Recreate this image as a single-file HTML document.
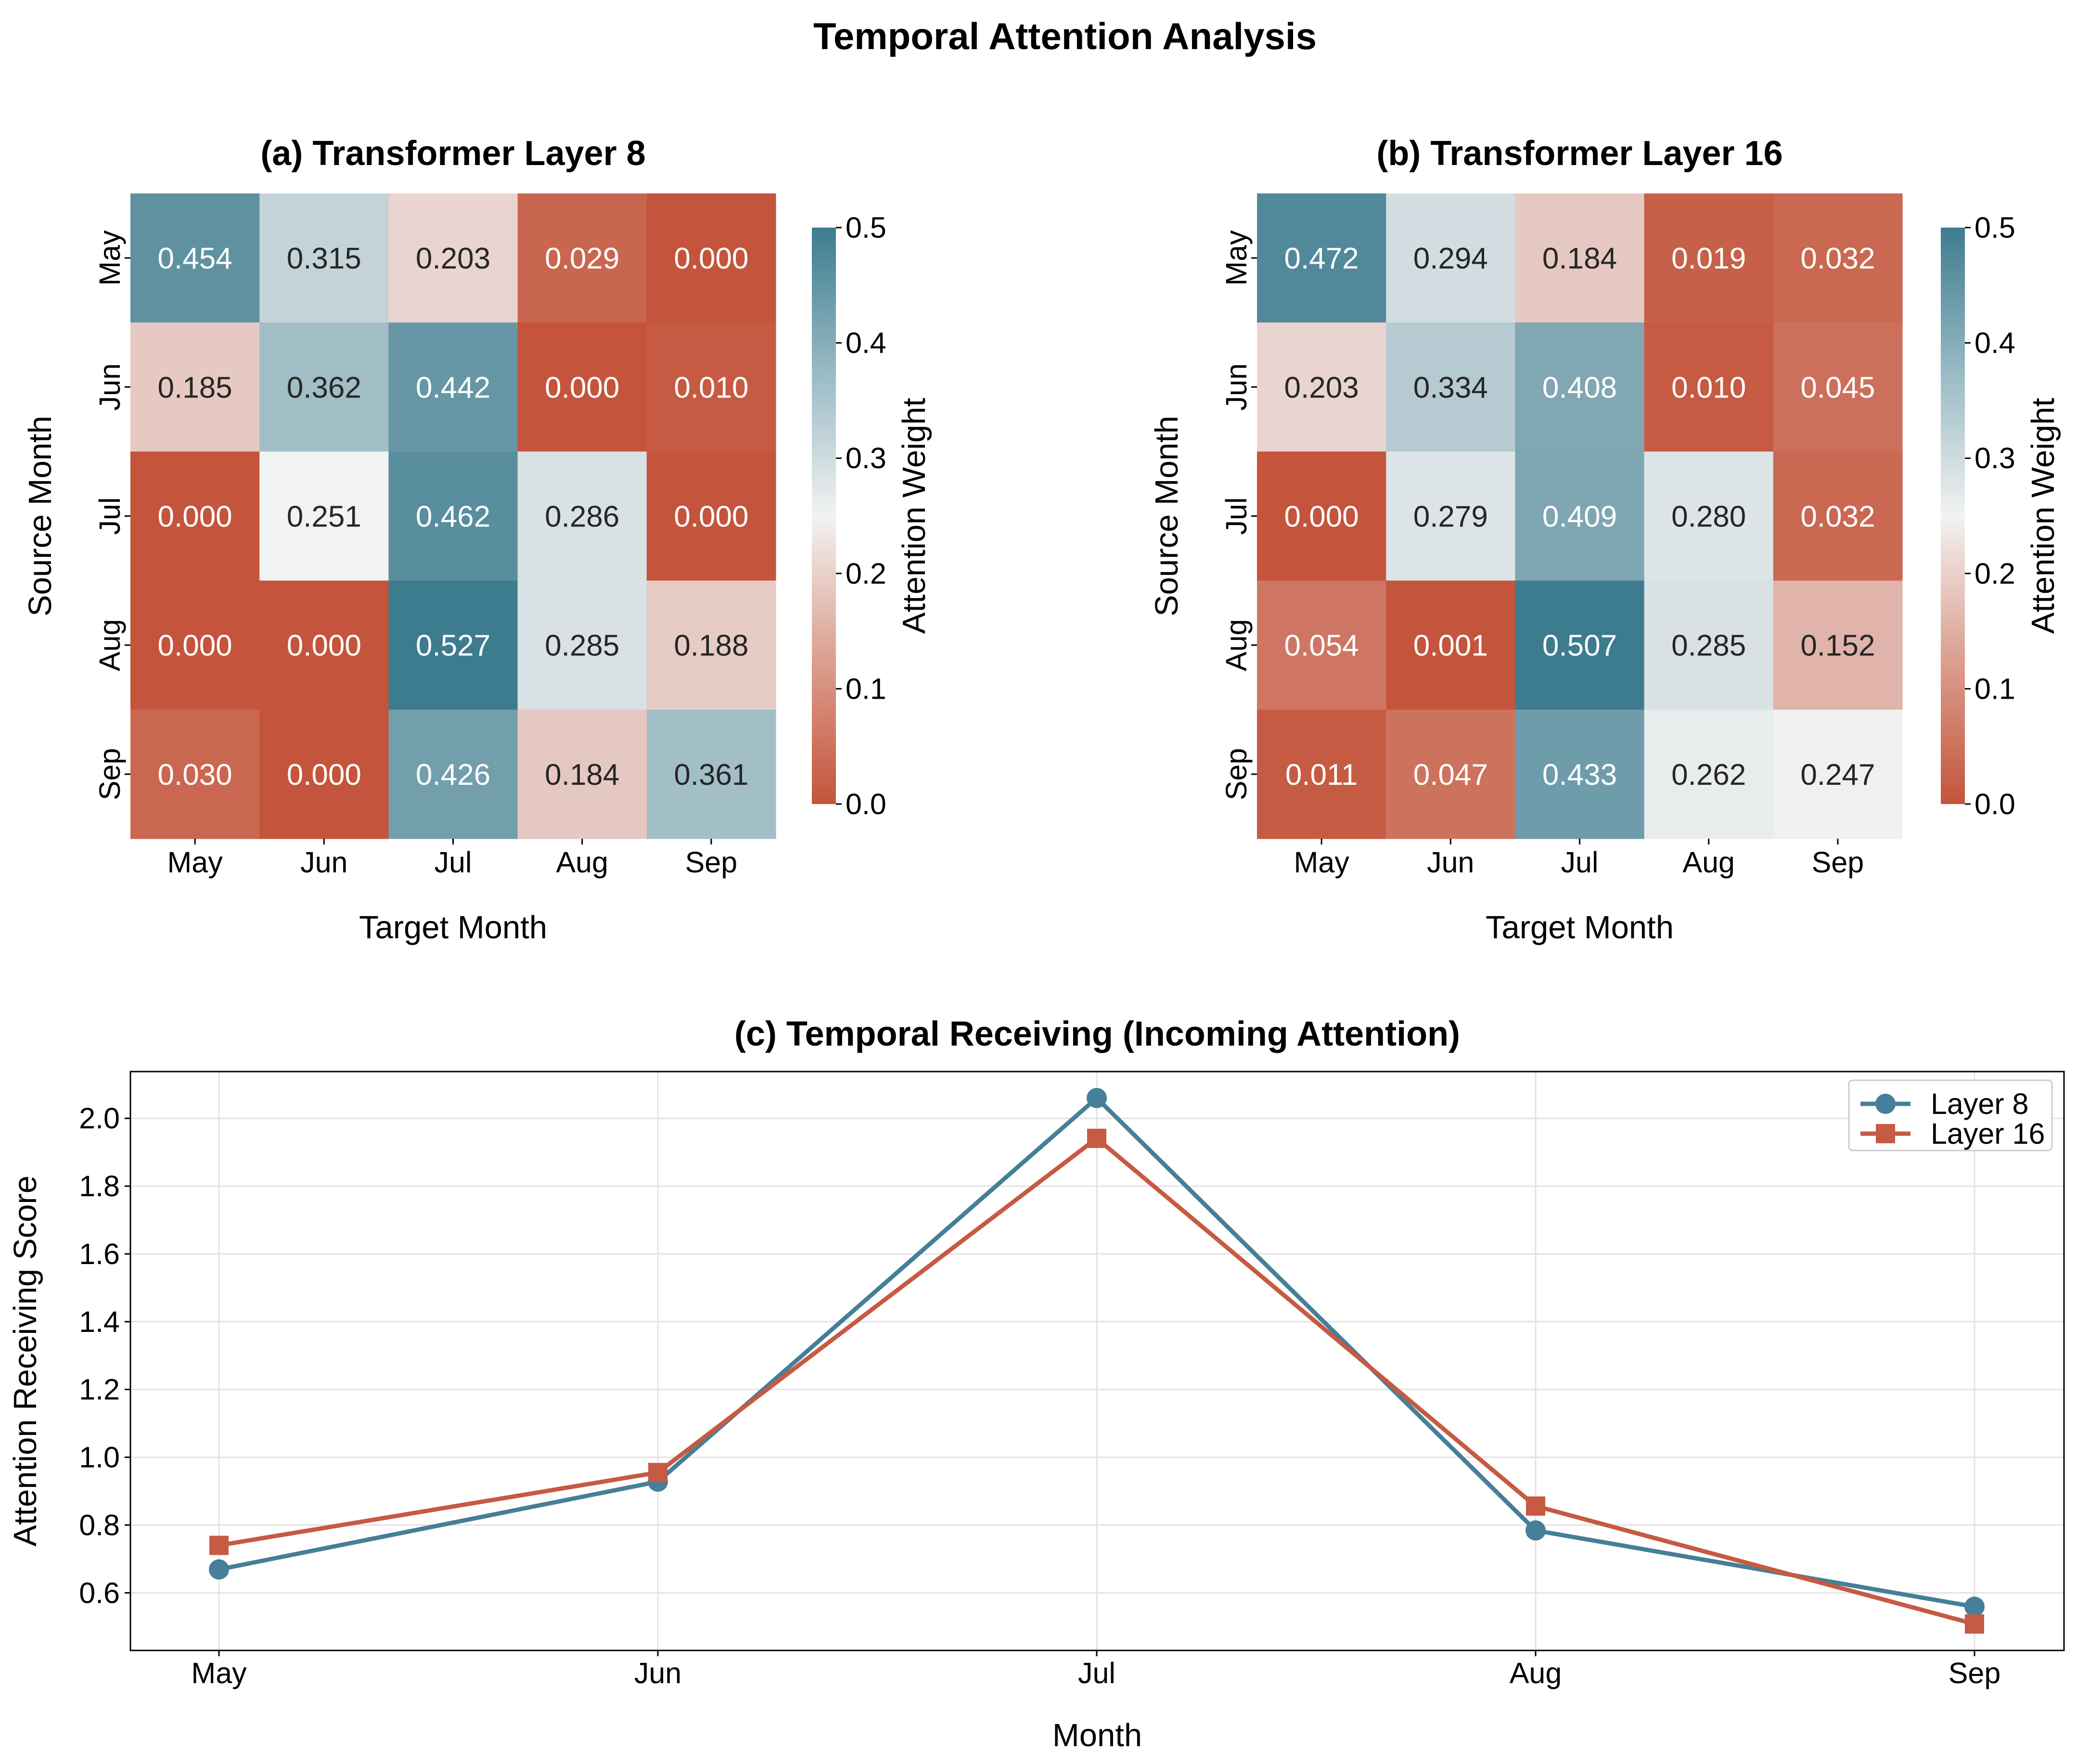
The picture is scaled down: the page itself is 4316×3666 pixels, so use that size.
<!DOCTYPE html>
<html><head><meta charset="utf-8">
<style>
html,body{margin:0;padding:0;background:#fff;}
svg{display:block;font-family:"Liberation Sans",Arial,sans-serif;}
</style></head>
<body>
<svg id="fig" width="4316" height="3666" viewBox="0 0 4316 3666" xmlns="http://www.w3.org/2000/svg">
<defs>
<linearGradient id="cbgrad" x1="0" y1="1" x2="0" y2="0">
<stop offset="0" stop-color="#c4543b"/>
<stop offset="0.25" stop-color="#dc9f8f"/>
<stop offset="0.5" stop-color="#f2f2f2"/>
<stop offset="0.75" stop-color="#98bac4"/>
<stop offset="1" stop-color="#3d7c8f"/>
</linearGradient>
</defs>
<text x="2213" y="102" font-size="78" font-weight="bold" text-anchor="middle">Temporal Attention Analysis</text>
<g id="root"></g>
</svg>
<script>
const months = ["May","Jun","Jul","Aug","Sep"];
const layer8 = [
 [0.454,0.315,0.203,0.029,0.000],
 [0.185,0.362,0.442,0.000,0.010],
 [0.000,0.251,0.462,0.286,0.000],
 [0.000,0.000,0.527,0.285,0.188],
 [0.030,0.000,0.426,0.184,0.361]];
const layer16 = [
 [0.472,0.294,0.184,0.019,0.032],
 [0.203,0.334,0.408,0.010,0.045],
 [0.000,0.279,0.409,0.280,0.032],
 [0.054,0.001,0.507,0.285,0.152],
 [0.011,0.047,0.433,0.262,0.247]];
const cbTicks = [0.0,0.1,0.2,0.3,0.4,0.5];
const yTicksLine = [0.6,0.8,1.0,1.2,1.4,1.6,1.8,2.0];

const NS="http://www.w3.org/2000/svg";
const root=document.getElementById('root');
function mk(tag,attrs,parent,text){const e=document.createElementNS(NS,tag);for(const k in attrs)e.setAttribute(k,attrs[k]);if(text!==undefined)e.textContent=text;(parent||root).appendChild(e);return e;}

const LOW=[196,84,59],MID=[242,242,242],HIGH=[61,124,143];
function cmap(v){let t=Math.max(0,Math.min(1,v/0.5));let a,b,u;if(t<0.5){a=LOW;b=MID;u=t/0.5;}else{a=MID;b=HIGH;u=(t-0.5)/0.5;}
 return a.map((x,i)=>Math.round(x+(b[i]-x)*u));}

const FT=61, FL=67, FV=62;
function heatmap(data,x0,cbx,title,key){
 const y0=402,size=1341,cell=size/5;
 const g=mk('g',{});
 
 
 const t=mk('text',{x:x0+size/2,y:343,'font-size':72,'font-weight':'bold','text-anchor':'middle'},g,title);
 
 
 data.forEach((row,r)=>row.forEach((v,c)=>{
  const col=cmap(v);
  const rc=mk('rect',{x:x0+c*cell,y:y0+r*cell,width:cell+0.6,height:cell+0.6,fill:`rgb(${col})`},g);
  
  
  const lum=0.299*col[0]+0.587*col[1]+0.114*col[2];
  const tx=mk('text',{x:x0+(c+0.5)*cell,y:y0+(r+0.5)*cell+22,'font-size':FV,'text-anchor':'middle',fill:lum<170?'#ffffff':'#262626'},g,v.toFixed(3));
  
  
 }));
 months.forEach((m,i)=>{
  const cx=x0+(i+0.5)*cell;
  mk('line',{x1:cx,y1:y0+size,x2:cx,y2:y0+size+12,stroke:'#000','stroke-width':3},g);
  const xl=mk('text',{x:cx,y:1813,'font-size':FT,'text-anchor':'middle'},g,m);
  
  
  const cy=y0+(i+0.5)*cell;
  mk('line',{x1:x0-12,y1:cy,x2:x0,y2:cy,stroke:'#000','stroke-width':3},g);
  const yl=mk('text',{x:0,y:0,'font-size':FT,'text-anchor':'middle',transform:`translate(${x0-22},${cy}) rotate(-90)`},g,m);
  
  
 });
 const xlab=mk('text',{x:x0+size/2,y:1950,'font-size':FL,'text-anchor':'middle'},g,'Target Month');
 
 
 const ylab=mk('text',{x:0,y:0,'font-size':FL,'text-anchor':'middle',transform:`translate(${x0-165},${y0+size/2}) rotate(-90)`},g,'Source Month');
 
 
 const cbTop=473,cbBot=1671,cbW=50;
 const cb=mk('rect',{x:cbx,y:cbTop,width:cbW,height:cbBot-cbTop,fill:'url(#cbgrad)'},g);
 
 
 cbTicks.forEach(v=>{
  const yy=cbBot-(v/0.5)*(cbBot-cbTop);
  mk('line',{x1:cbx+cbW,y1:yy,x2:cbx+cbW+12,y2:yy,stroke:'#000','stroke-width':3},g);
  const tl=mk('text',{x:cbx+cbW+20,y:yy+21,'font-size':FT},g,v.toFixed(1));
  
  
 });
 const cbl=mk('text',{x:0,y:0,'font-size':FL,'text-anchor':'middle',transform:`translate(${cbx+235},${(cbTop+cbBot)/2}) rotate(-90)`},g,'Attention Weight');
 
 
}
heatmap(layer8,271,1687,'(a) Transformer Layer 8','layer8');
heatmap(layer16,2612,4033,'(b) Transformer Layer 16','layer16');

const recv8 = months.map((m,c)=>layer8.reduce((s,row)=>s+row[c],0));
const recv16 = months.map((m,c)=>layer16.reduce((s,row)=>s+row[c],0));
const L=271,R=4289,T=2227,B=3430;
const xMay=455,xStep=912;
const yMin=0.43,yMax=2.138;
const xs=i=>xMay+i*xStep;
const ys=v=>B-(v-yMin)/(yMax-yMin)*(B-T);
const lg=mk('g',{});


const ct=mk('text',{x:(L+R)/2,y:2173,'font-size':72,'font-weight':'bold','text-anchor':'middle'},lg,'(c) Temporal Receiving (Incoming Attention)');


yTicksLine.forEach(v=>{
 const y=ys(v);
 mk('line',{x1:L,y1:y,x2:R,y2:y,stroke:'#e3e3e3','stroke-width':3},lg);
 mk('line',{x1:L-12,y1:y,x2:L,y2:y,stroke:'#000','stroke-width':3},lg);
 const t=mk('text',{x:L-22,y:y+21,'font-size':FT,'text-anchor':'end'},lg,v.toFixed(1));
 
 
});
months.forEach((m,i)=>{
 const x=xs(i);
 mk('line',{x1:x,y1:T,x2:x,y2:B,stroke:'#e3e3e3','stroke-width':3},lg);
 mk('line',{x1:x,y1:B,x2:x,y2:B+12,stroke:'#000','stroke-width':3},lg);
 const t=mk('text',{x:x,y:3498,'font-size':FT,'text-anchor':'middle'},lg,m);
 
 
});
const frame=mk('rect',{x:L,y:T,width:R-L,height:B-T,fill:'none',stroke:'#000','stroke-width':3},lg);


const xl=mk('text',{x:(L+R)/2,y:3629,'font-size':FL,'text-anchor':'middle'},lg,'Month');


const yl=mk('text',{x:0,y:0,'font-size':FL,'text-anchor':'middle',transform:`translate(75,${(T+B)/2}) rotate(-90)`},lg,'Attention Receiving Score');


const C8='#457f99',C16='#c65a43';
function series(vals,color,marker,key){
 const pts=vals.map((v,i)=>xs(i)+','+ys(v)).join(' ');
 const pl=mk('polyline',{points:pts,fill:'none',stroke:color,'stroke-width':9,'stroke-linejoin':'round'},lg);
 
 
 vals.forEach((v,i)=>{
  let m;
  if(marker==='circle') m=mk('circle',{cx:xs(i),cy:ys(v),r:21,fill:color},lg);
  else m=mk('rect',{x:xs(i)-20,y:ys(v)-20,width:40,height:40,fill:color},lg);
  
  
 });
}
series(recv8,C8,'circle','layer8');
series(recv16,C16,'square','layer16');
const leg=mk('g',{});


mk('rect',{x:3842,y:2245,width:422,height:146,rx:8,fill:'#fff',stroke:'#cccccc','stroke-width':3},leg);
const e1=mk('g',{},leg);


mk('line',{x1:3866,y1:2294,x2:3970,y2:2294,stroke:C8,'stroke-width':9},e1);
mk('circle',{cx:3918,cy:2294,r:21,fill:C8},e1);
mk('text',{x:4012,y:2315,'font-size':FT},e1,'Layer 8');
const e2=mk('g',{},leg);


mk('line',{x1:3866,y1:2356,x2:3970,y2:2356,stroke:C16,'stroke-width':9},e2);
mk('rect',{x:3898,y:2336,width:40,height:40,fill:C16},e2);
mk('text',{x:4012,y:2377,'font-size':FT},e2,'Layer 16');
</script>
</body></html>
